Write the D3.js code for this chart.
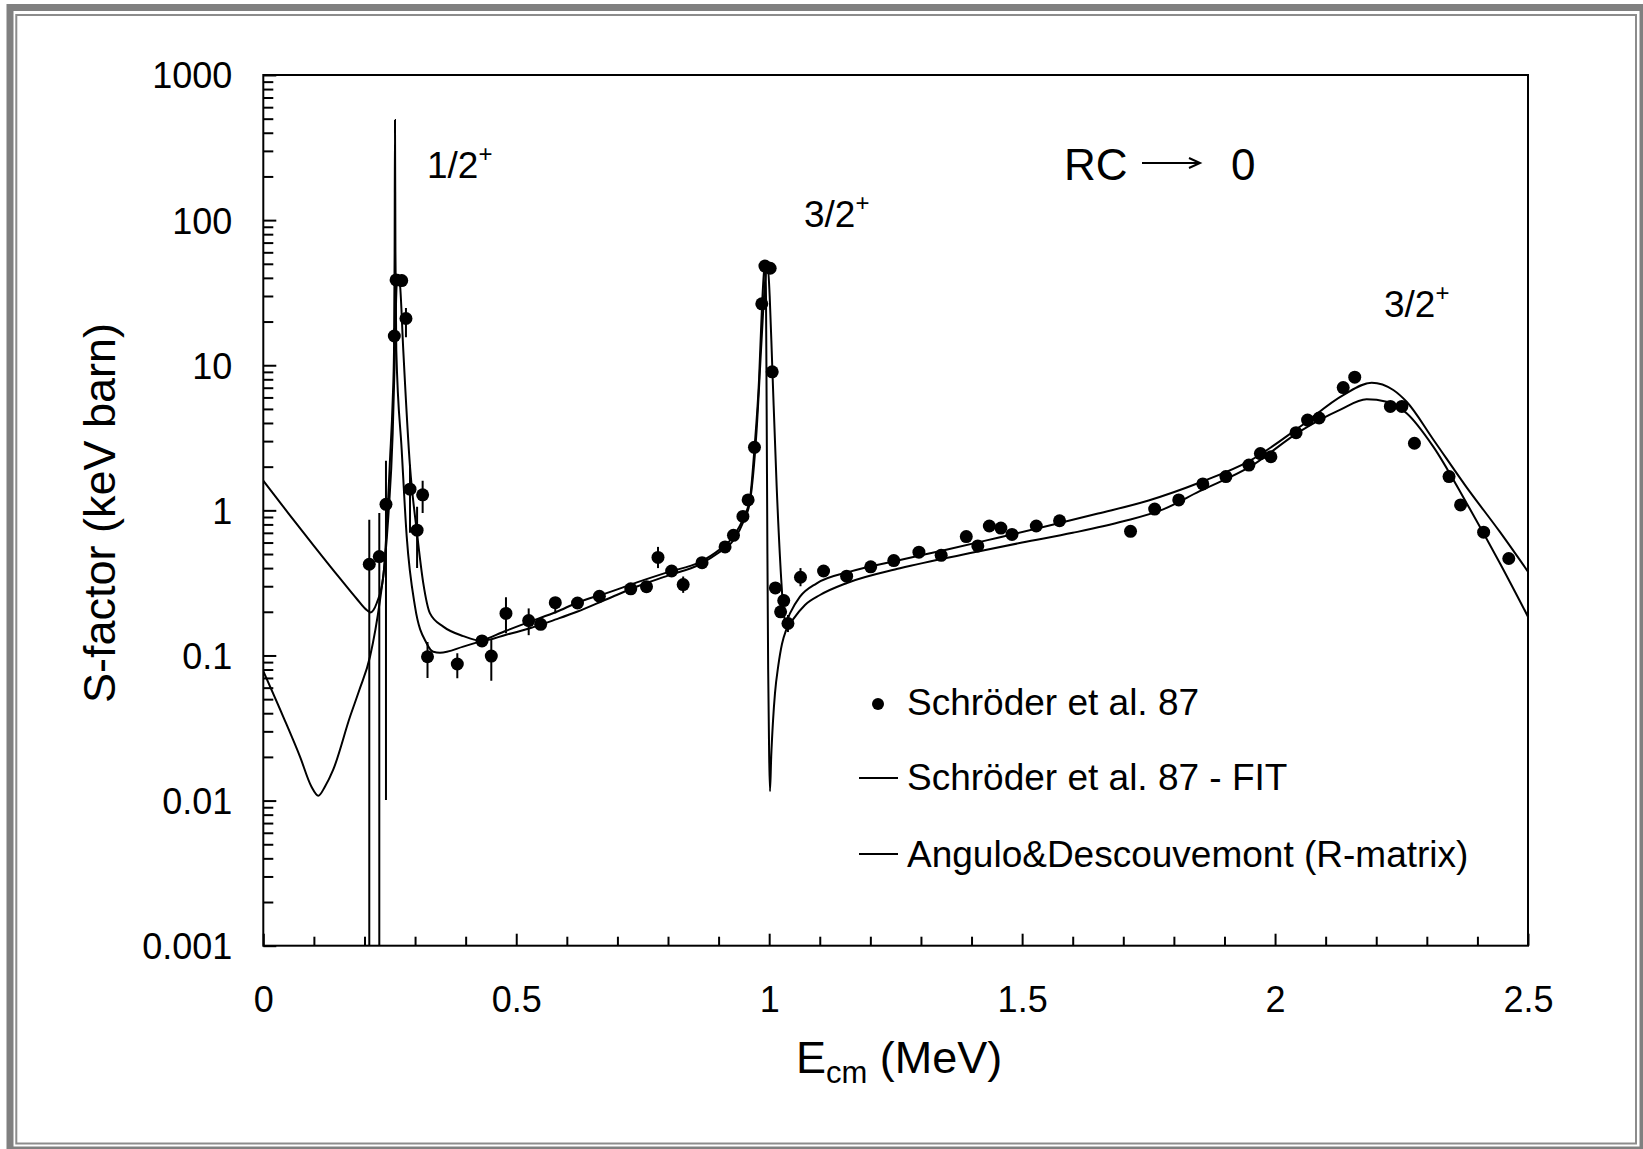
<!DOCTYPE html>
<html><head><meta charset="utf-8">
<script src="https://cdn.jsdelivr.net/npm/d3@7"></script>
<style>
body{margin:0;background:#fff}
svg text{font-family:"Liberation Sans",Arial,Helvetica,sans-serif;fill:#000}
</style>
</head><body>
<svg id="chart" width="1643" height="1149"></svg>
<script>
// ---- data ----
const pointE  = [0.2095,0.2293,0.2425,0.259,0.2625,0.2736,0.282,0.29,0.304,0.315,0.3246,0.3835,0.4323,0.4507,0.4797,0.5246,0.5483,0.5772,0.6211,0.6643,0.7264,0.7575,0.7802,0.8072,0.8300,0.8673,0.9128,0.9294,0.9481,0.9584,0.9709,0.9854,0.9916,1.0019,1.006,1.0122,1.0226,1.0288,1.0371,1.0619,1.1075,1.1531,1.2007,1.2463,1.296,1.340,1.3896,1.4124,1.4352,1.458,1.480,1.528,1.574,1.7143,1.762,1.8096,1.8572,1.9028,1.9483,1.971,1.9918,2.0415,2.0643,2.0871,2.1347,2.1575,2.2279,2.2507,2.2755,2.3439,2.3667,2.4123,2.4620];
const pointS  = [0.425,0.48,1.1,15.9,38.7,38.3,21,1.40,0.73,1.28,0.098,0.0873,0.126,0.099,0.195,0.174,0.164,0.231,0.230,0.256,0.288,0.298,0.474,0.382,0.308,0.436,0.56,0.673,0.908,1.18,2.72,26.5,48.2,46.6,9.0,0.292,0.20,0.239,0.166,0.346,0.382,0.352,0.408,0.451,0.515,0.49,0.66,0.569,0.78,0.755,0.683,0.78,0.848,0.717,1.02,1.18,1.52,1.71,2.05,2.46,2.34,3.43,4.19,4.33,7.01,8.28,5.2,5.2,2.9,1.71,1.09,0.707,0.466];
const pointLo = [0.00001,0.00001,0.0101,14,35,35,15.6,0.70,0.40,0.96,0.070,0.0697,0.115,0.067,0.142,0.138,0.155,0.195,0.215,0.24,0.272,0.282,0.40,0.36,0.27,0.415,0.53,0.64,0.86,1.1,2.55,25,46,44,8.5,0.275,0.19,0.22,0.145,0.30,0.35,0.33,0.39,0.43,0.49,0.465,0.63,0.54,0.75,0.72,0.65,0.75,0.82,0.68,0.98,1.13,1.46,1.64,1.97,2.36,2.25,3.3,4.03,4.16,6.7,7.95,5.0,5.0,2.78,1.64,1.04,0.68,0.445];
const pointHi = [0.86,0.96,2.2,18,42,42,24.8,2.06,1.06,1.6,0.124,0.1035,0.138,0.128,0.252,0.211,0.174,0.25,0.245,0.272,0.305,0.315,0.56,0.405,0.35,0.46,0.59,0.71,0.96,1.26,2.9,28,50,49,9.5,0.31,0.21,0.26,0.19,0.40,0.42,0.375,0.43,0.47,0.54,0.515,0.69,0.6,0.81,0.79,0.715,0.81,0.88,0.75,1.06,1.23,1.58,1.78,2.13,2.56,2.43,3.56,4.35,4.5,7.3,8.6,5.4,5.4,3.02,1.78,1.14,0.74,0.49];

const fitE = [0,0.05,0.1,0.15,0.185,0.205,0.2123,0.2175,0.2241,0.2372,0.2451,0.2504,0.2558,0.2584,0.2596,0.2603,0.2612,0.2629,0.2736,0.2835,0.2999,0.323,0.336,0.3493,0.3953,0.4317,0.48,0.527,0.58,0.62,0.68,0.74,0.80,0.863,0.90,0.929,0.95,0.962,0.971,0.980,0.9857,0.990,0.9925,0.9937,0.995,0.9965,0.998,1.0,1.0016,1.004,1.0075,1.0115,1.018,1.0253,1.033,1.0476,1.0708,1.1004,1.1538,1.2586,1.413,1.5,1.6,1.7,1.78,1.85,1.9507,2.0492,2.1282,2.181,2.2206,2.2601,2.3127,2.3787,2.4445,2.5];
const fitS = [1.6,0.95,0.57,0.345,0.245,0.205,0.198,0.205,0.229,0.35,0.9,2.22,5.75,12.7,60,490,60,12.7,2.6,0.659,0.217,0.121,0.106,0.1045,0.115,0.126,0.148,0.171,0.2,0.231,0.27,0.32,0.375,0.44,0.53,0.66,0.9,1.2,2.7,8,25,45,50,30,5,0.5,0.08,0.02,0.0116,0.02,0.035,0.055,0.085,0.12,0.148,0.178,0.223,0.261,0.316,0.399,0.52,0.6,0.7,0.84,1.02,1.35,2.0,3.5,4.92,5.82,5.61,4.67,2.75,1.12,0.432,0.185];

const rmE = [0,0.0395,0.0725,0.095,0.1087,0.122,0.138,0.1714,0.19,0.2109,0.2307,0.2405,0.2471,0.2558,0.2603,0.2635,0.267,0.2705,0.2767,0.29,0.3032,0.3163,0.3295,0.3558,0.3953,0.4317,0.48,0.527,0.58,0.62,0.68,0.74,0.80,0.863,0.90,0.929,0.95,0.962,0.975,0.985,0.992,0.997,1.001,1.006,1.0148,1.0247,1.0279,1.033,1.0411,1.0609,1.094,1.1597,1.2586,1.35,1.45,1.55,1.65,1.75,1.85,1.9507,2.0492,2.1348,2.191,2.2337,2.2601,2.3127,2.3787,2.4445,2.5];
const rmS = [0.078,0.0378,0.0201,0.0125,0.0108,0.0125,0.01626,0.0378,0.058,0.098,0.241,0.455,0.9,3.4,12.7,35,42,35,12.7,2.0,0.73,0.314,0.195,0.158,0.136,0.126,0.139,0.154,0.178,0.2,0.245,0.3,0.355,0.425,0.51,0.62,0.85,1.15,3.5,15,38,49,30,10,1.46,0.298,0.206,0.17,0.195,0.254,0.314,0.378,0.455,0.535,0.645,0.78,0.95,1.17,1.55,2.2,3.77,6.23,7.58,6.75,5.6,3.08,1.44,0.71,0.378];

const xTickValues = [0,0.5,1,1.5,2,2.5];
const xTickLabels = ["0","0.5","1","1.5","2","2.5"];
const yTickValues = [0.001,0.01,0.1,1,10,100,1000];
const yTickLabels = ["0.001","0.01","0.1","1","10","100","1000"];
const legendLabels = ["Schröder et al. 87","Schröder et al. 87 - FIT","Angulo&Descouvemont (R-matrix)"];

// ---- layout ----
const svg = d3.select("#chart");
const L = 263.3, R = 1528, T = 75, B = 945.7;
const x = d3.scaleLinear().domain([0,2.5]).range([L,R]);
const y = d3.scaleLog().domain([0.001,1000]).range([B,T]);

svg.append("rect").attr("width",1643).attr("height",1149).attr("fill","#fff");
// outer grey frame
svg.append("rect").attr("x",10).attr("y",7.5).attr("width",1633).attr("height",1142.5)
  .attr("fill","none").attr("stroke","#808080").attr("stroke-width",7);
svg.append("rect").attr("x",16.3).attr("y",15).attr("width",1619.7).attr("height",1128.5)
  .attr("fill","none").attr("stroke","#8c8c8c").attr("stroke-width",2);

svg.append("clipPath").attr("id","plotclip").append("rect")
  .attr("x",L).attr("y",T).attr("width",R-L).attr("height",B-T);

// minor tick values
const yMinor = [];
for (let d=-3; d<3; d++) for (let m=2; m<=9; m++) yMinor.push(m*Math.pow(10,d));
const xMinor = d3.range(0,25).map(i=>i/10).filter(v=>Math.abs(v*2-Math.round(v*2))>1e-6);

// axes
const gy = svg.append("g").attr("transform",`translate(${L},0)`)
  .call(d3.axisLeft(y).tickValues(yTickValues).tickFormat((d,i)=>yTickLabels[i])
    .tickSizeInner(-13).tickSizeOuter(0).tickPadding(31));
gy.select(".domain").remove();
gy.selectAll("text").attr("font-size",36).attr("dy","0.36em").style("font-family",'"Liberation Sans",Arial,sans-serif');
gy.selectAll("line").attr("stroke-width",2);
const gym = svg.append("g").attr("transform",`translate(${L},0)`)
  .call(d3.axisLeft(y).tickValues(yMinor).tickFormat("").tickSizeInner(-10).tickSizeOuter(0));
gym.select(".domain").remove();
gym.selectAll("line").attr("stroke-width",2);

const gx = svg.append("g").attr("transform",`translate(0,${B})`)
  .call(d3.axisBottom(x).tickValues(xTickValues).tickFormat((d,i)=>xTickLabels[i])
    .tickSizeInner(-12).tickSizeOuter(0).tickPadding(41));
gx.select(".domain").remove();
gx.selectAll("text").attr("font-size",36).style("font-family",'"Liberation Sans",Arial,sans-serif');
gx.selectAll("line").attr("stroke-width",2);
const gxm = svg.append("g").attr("transform",`translate(0,${B})`)
  .call(d3.axisBottom(x).tickValues(xMinor).tickFormat("").tickSizeInner(-9).tickSizeOuter(0));
gxm.select(".domain").remove();
gxm.selectAll("line").attr("stroke-width",2);

// frame
svg.append("rect").attr("x",L).attr("y",T).attr("width",R-L).attr("height",B-T)
  .attr("fill","none").attr("stroke","#000").attr("stroke-width",2);

// curves
const plot = svg.append("g").attr("clip-path","url(#plotclip)");
const line = d3.line().x(d=>x(d[0])).y(d=>y(d[1])).curve(d3.curveMonotoneX);
plot.append("path").datum(fitE.map((e,i)=>[e,fitS[i]])).attr("d",line)
  .attr("fill","none").attr("stroke","#000").attr("stroke-width",2);
plot.append("path").datum(rmE.map((e,i)=>[e,rmS[i]])).attr("d",line)
  .attr("fill","none").attr("stroke","#000").attr("stroke-width",2);

// data points with error bars
const pts = pointE.map((e,i)=>({e, s:pointS[i], lo:pointLo[i], hi:pointHi[i]}));
plot.selectAll("line.err").data(pts).join("line").attr("class","err")
  .attr("x1",d=>x(d.e)).attr("x2",d=>x(d.e))
  .attr("y1",d=>Math.min(y(Math.max(d.lo,1e-4)),B+5)).attr("y2",d=>y(d.hi))
  .attr("stroke","#000").attr("stroke-width",2);
plot.selectAll("circle.pt").data(pts).join("circle").attr("class","pt")
  .attr("cx",d=>x(d.e)).attr("cy",d=>y(d.s)).attr("r",6.5).attr("fill","#000");

// annotations
function resLabel(px, py, main){
  const t = svg.append("text").attr("x",px).attr("y",py).attr("font-size",37);
  t.append("tspan").text(main);
  t.append("tspan").attr("font-size",24).attr("dy",-16).text("+");
}
resLabel(427,178,"1/2");
resLabel(804,227,"3/2");
resLabel(1384,317,"3/2");

svg.append("text").attr("x",1064).attr("y",180).attr("font-size",44).text("RC");
svg.append("line").attr("x1",1142).attr("x2",1199).attr("y1",163).attr("y2",163)
  .attr("stroke","#000").attr("stroke-width",2);
svg.append("path").attr("d","M1189,158 L1200,163 L1189,168").attr("fill","none")
  .attr("stroke","#000").attr("stroke-width",2);
svg.append("text").attr("x",1231).attr("y",180).attr("font-size",44).text("0");

// legend
svg.append("circle").attr("cx",878).attr("cy",704).attr("r",6).attr("fill","#000");
svg.append("text").attr("x",907).attr("y",715).attr("font-size",37).text(legendLabels[0]);
svg.append("line").attr("x1",859).attr("x2",898).attr("y1",778).attr("y2",778).attr("stroke","#000").attr("stroke-width",2);
svg.append("text").attr("x",907).attr("y",790).attr("font-size",37).text(legendLabels[1]);
svg.append("line").attr("x1",859).attr("x2",898).attr("y1",854).attr("y2",854).attr("stroke","#000").attr("stroke-width",2);
svg.append("text").attr("x",907).attr("y",867).attr("font-size",37).text(legendLabels[2]);

// axis titles
const xt = svg.append("text").attr("x",796).attr("y",1073).attr("font-size",45);
xt.append("tspan").text("E");
xt.append("tspan").attr("font-size",31).attr("dy",10).text("cm");
xt.append("tspan").attr("dy",-10).text(" (MeV)");

svg.append("text").attr("transform","translate(115,513) rotate(-90)")
  .attr("text-anchor","middle").attr("font-size",45).text("S-factor (keV barn)");
</script>
</body></html>
